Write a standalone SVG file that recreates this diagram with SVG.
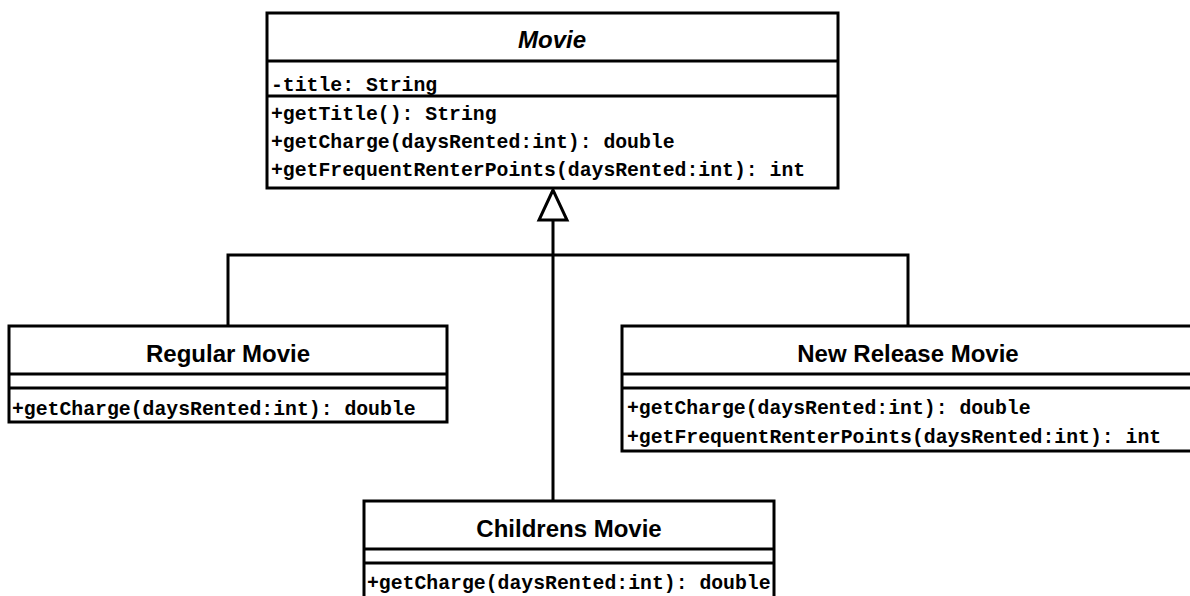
<svg xmlns="http://www.w3.org/2000/svg" width="1190" height="596" viewBox="0 0 1190 596">
<style>
.box{fill:#fff;stroke:#000;stroke-width:3}
.sep{stroke:#000;stroke-width:3}
.title{font-family:"Liberation Sans",Arial,sans-serif;font-weight:bold;font-size:24px;text-anchor:middle;fill:#000}
.mono{font-family:"Liberation Mono","Courier New",monospace;font-weight:bold;font-size:19.8px;fill:#000}
.conn{fill:none;stroke:#000;stroke-width:3}
</style>
<rect width="1190" height="596" fill="#fff"/>
<g id="connectors">
<polyline class="conn" points="228,326 228,255 908,255 908,326"/>
<line class="conn" x1="553" y1="220" x2="553" y2="501"/>
<polygon points="553,190 539,220 567,220" fill="#fff" stroke="#000" stroke-width="3"/>
</g>
<g id="movie">
<rect class="box" x="267" y="13" width="571" height="175"/>
<text class="title" x="552" y="48" font-style="italic">Movie</text>
<line class="sep" x1="267" y1="61" x2="838" y2="61"/>
<text class="mono" x="271" y="91">-title: String</text>
<line class="sep" x1="267" y1="96" x2="838" y2="96"/>
<text class="mono" x="271" y="120">+getTitle(): String</text>
<text class="mono" x="271" y="148">+getCharge(daysRented:int): double</text>
<text class="mono" x="271" y="176">+getFrequentRenterPoints(daysRented:int): int</text>
</g>
<g id="regular">
<rect class="box" x="9" y="326" width="438" height="96"/>
<text class="title" x="228" y="362">Regular Movie</text>
<line class="sep" x1="9" y1="374" x2="447" y2="374"/>
<line class="sep" x1="9" y1="388" x2="447" y2="388"/>
<text class="mono" x="12" y="415">+getCharge(daysRented:int): double</text>
</g>
<g id="newrelease">
<rect class="box" x="622" y="326" width="580" height="125"/>
<text class="title" x="908" y="362">New Release Movie</text>
<line class="sep" x1="622" y1="374" x2="1190" y2="374"/>
<line class="sep" x1="622" y1="388" x2="1190" y2="388"/>
<text class="mono" x="627" y="414">+getCharge(daysRented:int): double</text>
<text class="mono" x="627" y="443">+getFrequentRenterPoints(daysRented:int): int</text>
</g>
<g id="childrens">
<rect class="box" x="364" y="501" width="410" height="110"/>
<text class="title" x="569" y="537">Childrens Movie</text>
<line class="sep" x1="364" y1="549" x2="774" y2="549"/>
<line class="sep" x1="364" y1="563" x2="774" y2="563"/>
<text class="mono" x="367" y="589">+getCharge(daysRented:int): double</text>
</g>
</svg>
